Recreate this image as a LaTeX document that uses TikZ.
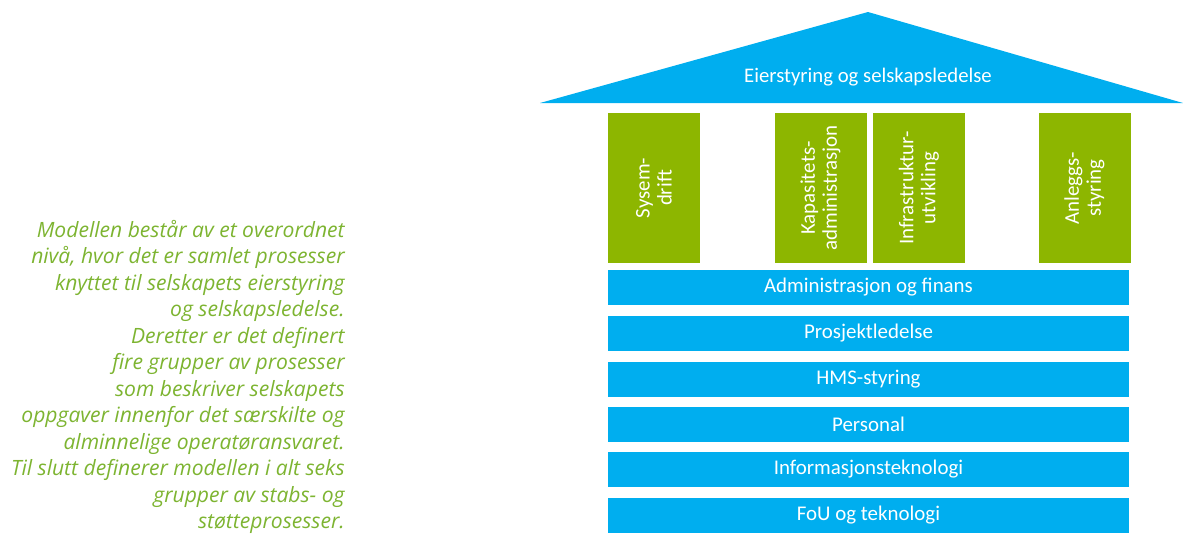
\documentclass[tikz,border=0pt]{standalone}
\usepackage{fontspec}
\setmainfont{Carlito}
\newfontfamily\brodfont{Open Sans}
\usepackage{tikz}
\definecolor{husblaa}{HTML}{00AEEF}
\definecolor{husgronn}{HTML}{8DB600}
\definecolor{tekstgronn}{HTML}{7DB431}
\tikzset{
  bjelke/.style={fill=husblaa, text=white, inner sep=0pt,
    minimum width=10.42cm, minimum height=0.7cm,
    font=\fontsize{11.9}{13}\selectfont},
  soyle/.style={fill=husgronn, text=white, inner sep=0pt, rotate=90,
    minimum width=3.0cm, minimum height=1.84cm, align=center,
    font=\fontsize{11.9}{12.5}\selectfont},
}

\begin{document}
\begin{tikzpicture}[x=0.02cm,y=-0.02cm]
      \useasboundingbox (0,0) rectangle (1183,535);
      % tak
      \fill[husblaa] (540,103) coordinate (t1) -- (868,12) coordinate (t2)
        -- (1183,103) coordinate (t3) -- cycle;
      \node[text=white,font=\fontsize{11.8}{13}\selectfont] (tak) at (868,77) {Eierstyring og selskapsledelse};
      % soyler
      \node[soyle] (s1) at ( 654  ,188) {Sysem-\\drift};
      \node[soyle] (s2) at ( 820.5,188) {Kapasitets-\\administrasjon};
      \node[soyle] (s3) at ( 919  ,188) {Infrastruktur-\\utvikling};
      \node[soyle] (s4) at (1084.5,188) {Anleggs-\\styring};
      % bjelker
      \node[bjelke] (b1) at (868.5,287.5) {Administrasjon og finans};
      \node[bjelke] (b2) at (868.5,333.5) {Prosjektledelse};
      \node[bjelke] (b3) at (868.5,379  ) {HMS-styring};
      \node[bjelke] (b4) at (868.5,424  ) {Personal};
      \node[bjelke] (b5) at (868.5,469.5) {Informasjonsteknologi};
      \node[bjelke] (b6) at (868.5,515.5) {FoU og teknologi};
      % forklaring
      \node[anchor=east, align=right, inner sep=0pt, text=tekstgronn,
        font=\brodfont\itshape\fontsize{12}{15.1}\selectfont] (tekst) at (345,377)
        {Modellen består av et overordnet\\
         nivå, hvor det er samlet prosesser\\
         knyttet til selskapets eierstyring\\
         og selskapsledelse.\\
         Deretter er det definert\\
         fire grupper av prosesser\\
         som beskriver selskapets\\
         oppgaver innenfor det særskilte og\\
         alminnelige operatøransvaret.\\
         Til slutt definerer modellen i alt seks\\
         grupper av stabs- og\\
         støtteprosesser.};
\end{tikzpicture}
\end{document}
